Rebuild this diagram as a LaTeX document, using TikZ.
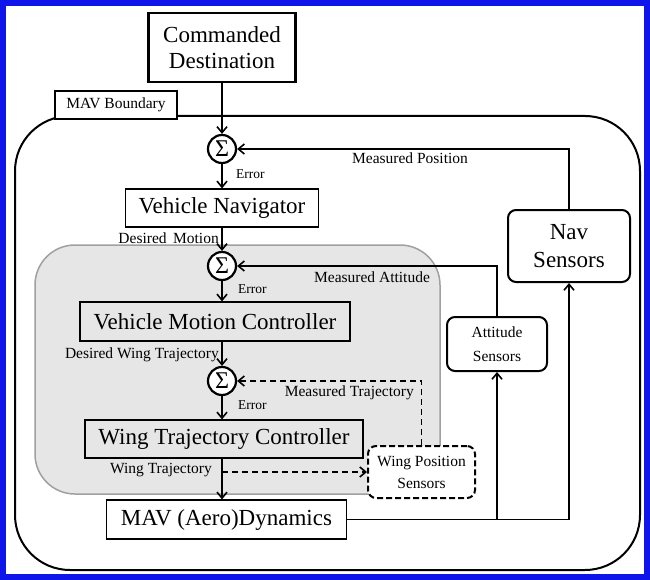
\documentclass[tikz,border=0pt]{standalone}
\usepackage{fontspec}
\setmainfont{Liberation Serif}
\usetikzlibrary{arrows.meta}
\definecolor{frameblue}{RGB}{15,20,235}
\definecolor{regiongray}{RGB}{230,230,230}
\definecolor{regionedge}{RGB}{160,160,160}
\begin{document}
\begin{tikzpicture}
    [
        x=1pt, y=-1pt,
        block/.style={rectangle, draw, line width=1.2pt, inner sep=0pt, align=center, font=\fontsize{23}{26}\selectfont},
        sensor/.style={rectangle, rounded corners=8pt, draw, fill=white, line width=2pt, inner sep=0pt, align=center},
        summer/.style={circle, draw, fill=white, line width=2.2pt, minimum size=28pt, inner sep=0pt, font=\fontsize{24}{24}\selectfont},
        sig/.style={font=\fontsize{15.5}{18}\selectfont, inner sep=0pt},
        err/.style={font=\fontsize{13.5}{15}\selectfont, inner sep=0pt, anchor=west},
        flow/.style={line width=1.6pt, -{Straight Barb[length=6pt,width=10pt]}},
        measured/.style={flow, dash pattern=on 6pt off 4pt},
    ]
    \useasboundingbox (0,0) rectangle (650,580);
    \draw [frameblue, line width=6pt] (3,3) rectangle (647,577);
    \draw [line width=2pt, rounded corners=55pt] (15,116) rectangle (640,570);
    \node (bound) at (116,105) [block, fill=white, line width=2.2pt, minimum width=122pt, minimum height=28pt, font=\fontsize{15.5}{18}\selectfont] {MAV Boundary};
    \filldraw [fill=regiongray, draw=regionedge, line width=1.5pt, rounded corners=40pt] (35,245) rectangle (440,494);
    \node (cmd) at (222,47.5) [block, line width=2.8pt, minimum width=147pt, minimum height=69pt] {Commanded\\Destination};
    \node (sum1) at (222,149) [summer] {Σ};
    \node (nav) at (222,208) [block, fill=white, minimum width=193pt, minimum height=38pt] {Vehicle Navigator};
    \node (navsens) at (569,246) [sensor, minimum width=122pt, minimum height=72pt, font=\fontsize{23}{28}\selectfont] {Nav\\Sensors};
    \node (sum2) at (222,266) [summer] {Σ};
    \node (vmc) at (215,321.5) [block, minimum width=270pt, minimum height=39pt] {Vehicle Motion Controller};
    \node (attsens) at (497,344) [sensor, minimum width=100pt, minimum height=54pt, font=\fontsize{15.5}{24}\selectfont] {Attitude\\Sensors};
    \node (sum3) at (222,381) [summer] {Σ};
    \node (wtc) at (224,439) [block, minimum width=278pt, minimum height=38pt] {Wing Trajectory Controller};
    \node (wps) at (421.5,472) [sensor, dash pattern=on 6pt off 3pt, minimum width=107pt, minimum height=52pt, font=\fontsize{15.5}{22}\selectfont] {Wing Position\\Sensors};
    \node (mav) at (226.5,519.5) [block, fill=white, minimum width=240pt, minimum height=39pt] {MAV (Aero)Dynamics};
    \node (mpos) at (410,158) [sig] {Measured Position};
    \node (err1) at (236,174) [err] {Error};
    \node (dmot) at (219,238) [sig, anchor=east] {Desired\, Motion};
    \node (matt) at (372,277) [sig] {Measured Attitude};
    \node (err2) at (238,289) [err] {Error};
    \node (dwing) at (219,355) [sig, anchor=east] {Desired Wing Trajectory};
    \node (mtraj) at (414,393) [sig, anchor=east] {Measured Trajectory};
    \node (err3) at (238,405) [err] {Error};
    \node (wtraj) at (212,470) [sig, anchor=east] {Wing Trajectory};
    \draw [flow] (cmd) -- (sum1);
    \draw [flow] (sum1) -- (nav);
    \draw [flow] (nav) -- (sum2);
    \draw [flow] (sum2) -- (sum2 |- vmc.north);
    \draw [flow] (sum2 |- vmc.south) -- (sum3);
    \draw [flow] (sum3) -- (sum3 |- wtc.north);
    \draw [flow] (sum3 |- wtc.south) -- (mav.north -| sum3);
    \draw [flow] (navsens.north) |- (sum1.east);
    \draw [flow] (attsens.north) |- (sum2.east);
    \draw [measured] (wps.north) |- (sum3.east);
    \draw [measured] (sum3 |- wps.west) -- (wps.west);
    \draw [line width=1.6pt] (mav.east) -- (navsens.south |- mav.east);
    \draw [flow] (attsens.south |- mav.east) -- (attsens.south);
    \draw [flow] (navsens.south |- mav.east) -- (navsens.south);
\end{tikzpicture}
\end{document}
